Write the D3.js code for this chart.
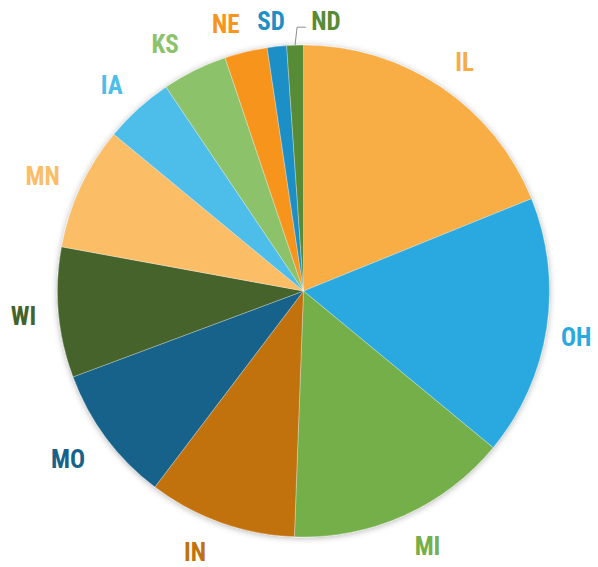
<!DOCTYPE html>
<html>
<head>
<meta charset="utf-8">
<script src="https://cdn.jsdelivr.net/npm/d3@7"></script>
<style>
  body { margin: 0; background: #fff; }
  svg { display: block; }
  .slice-label { font-family: "Liberation Sans Narrow", "Roboto Condensed", "Arial Narrow", sans-serif; font-weight: bold; font-size: 25px; }
</style>
</head>
<body>
<div id="chart"></div>
<script>
// Chart data
var states = ["IL", "OH", "MI", "IN", "MO", "WI", "MN", "IA", "KS", "NE", "SD", "ND"];
var values = [12.8, 11.6, 9.9, 6.6, 6.1, 5.8, 5.5, 3.1, 2.9, 1.9, 0.86, 0.74];
var colors = ["#F8AD44", "#2AA9E0", "#74AF48", "#C1720F", "#17628A", "#44632A",
              "#FBBD66", "#4DBDEA", "#8CC36A", "#F7941D", "#1F8FC6", "#588B34"];

// Size of svg
var svgWidth = 598;
var svgHeight = 567;

var cx = 303.5;
var cy = 291;
var radius = 246;
var labelRadius = 281;

// Small hand moves of the labels, as done in the original (x, y in px)
var labelNudge = [[4, 4], [-5, 3], [9, -1], [-14, -4], [-10, 0], [0, 0],
                  [-6, 4], [-3, 2], [-14, 5], [-12, 6], [-2, 9], [32, 11]];

var svg = d3.select("#chart")
    .append("svg")
    .attr("width", svgWidth)
    .attr("height", svgHeight);

// Soft shadow round the pie
var defs = svg.append("defs");
var shadow = defs.append("filter")
    .attr("id", "shadow")
    .attr("x", "-10%").attr("y", "-10%")
    .attr("width", "120%").attr("height", "120%");
shadow.append("feDropShadow")
    .attr("dx", 0)
    .attr("dy", 1)
    .attr("stdDeviation", 3)
    .attr("flood-color", "#000")
    .attr("flood-opacity", 0.3);

var chartGroup = svg.append("g")
    .attr("transform", `translate(${cx}, ${cy})`);

var pie = d3.pie()
    .sort(null)
    .value(d => d);

var arcs = pie(values);

var arc = d3.arc()
    .innerRadius(0)
    .outerRadius(radius);

var labelArc = d3.arc()
    .innerRadius(labelRadius)
    .outerRadius(labelRadius);

// Slices
chartGroup.append("g")
    .attr("filter", "url(#shadow)")
    .selectAll("path")
    .data(arcs)
    .enter()
    .append("path")
    .attr("d", arc)
    .attr("fill", (d, i) => colors[i])
    .attr("stroke", "#fff")
    .attr("stroke-opacity", 0.5)
    .attr("stroke-width", 0.6);

// Label centre for slice i
function labelPos(d, i) {
    var c = labelArc.centroid(d);
    return [c[0] + labelNudge[i][0], c[1] + labelNudge[i][1]];
}

chartGroup.selectAll(".slice-label")
    .data(arcs)
    .enter()
    .append("text")
    .attr("class", "slice-label")
    .attr("transform", (d, i) => {
        var c = labelPos(d, i);
        return `translate(${c[0]}, ${c[1]})`;
    })
    .attr("text-anchor", "middle")
    .attr("dy", "0.36em")
    .attr("fill", (d, i) => colors[i])
    .text((d, i) => states[i]);

// Leader line for ND, whose label is moved aside
var ndIndex = states.indexOf("ND");
var ndMid = (arcs[ndIndex].startAngle + arcs[ndIndex].endAngle) / 2;
var edgeX = radius * Math.sin(ndMid);
var edgeY = -radius * Math.cos(ndMid);
var ndLabel = labelPos(arcs[ndIndex], ndIndex);
var lineY = ndLabel[1] + 6;
chartGroup.append("path")
    .attr("d", d3.line()([
        [edgeX, edgeY],
        [edgeX + 2, lineY],
        [ndLabel[0] - 20, lineY]
    ]))
    .attr("fill", "none")
    .attr("stroke", "#8c8c8c")
    .attr("stroke-width", 1);
</script>
</body>
</html>
